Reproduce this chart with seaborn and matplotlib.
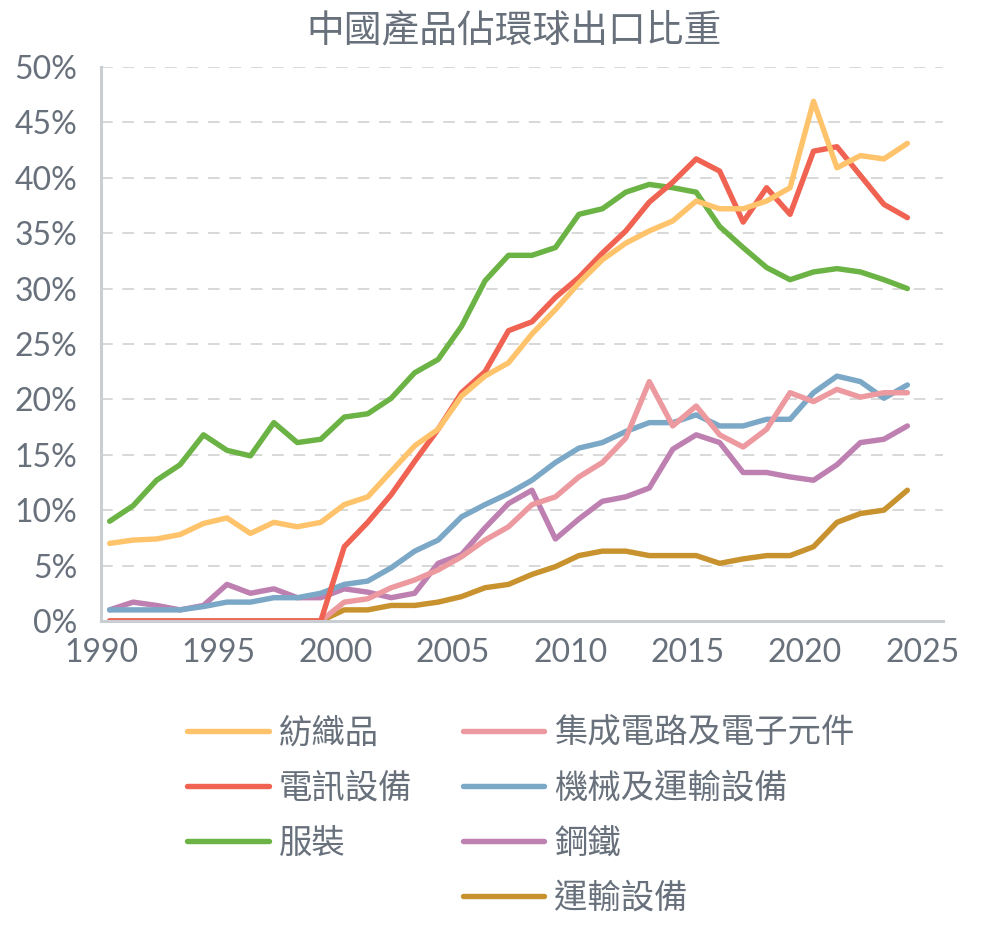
import numpy as np
import pandas as pd
import matplotlib
matplotlib.use("Agg")
import matplotlib.pyplot as plt
from matplotlib.lines import Line2D
import seaborn as sns

years = list(range(1990, 2025))

textiles = [7.0, 7.3, 7.4, 7.8, 8.8, 9.3, 7.9, 8.9, 8.5, 8.9,
            10.5, 11.2, 13.5, 15.8, 17.3, 20.3, 22.1, 23.3, 25.9, 28.1,
            30.5, 32.6, 34.1, 35.2, 36.1, 37.9, 37.2, 37.2, 37.9, 39.1,
            46.9, 40.9, 42.0, 41.7, 43.1]
telecom = [0, 0, 0, 0, 0, 0, 0, 0, 0, 0,
           6.7, 8.9, 11.4, 14.4, 17.3, 20.6, 22.5, 26.2, 27.0, 29.2,
           31.0, 33.2, 35.2, 37.8, 39.6, 41.7, 40.6, 36.0, 39.1, 36.7,
           42.4, 42.8, 40.2, 37.6, 36.4]
apparel = [9.0, 10.4, 12.7, 14.1, 16.8, 15.4, 14.9, 17.9, 16.1, 16.4,
           18.4, 18.7, 20.1, 22.4, 23.6, 26.6, 30.7, 33.0, 33.0, 33.7,
           36.7, 37.2, 38.7, 39.4, 39.1, 38.7, 35.6, 33.7, 31.9, 30.8,
           31.5, 31.8, 31.5, 30.8, 30.0]
chips = [0, 0, 0, 0, 0, 0, 0, 0, 0, 0,
         1.7, 2.0, 3.0, 3.7, 4.6, 5.8, 7.3, 8.5, 10.5, 11.2,
         13.0, 14.3, 16.5, 21.6, 17.6, 19.4, 16.8, 15.7, 17.3, 20.6,
         19.8, 20.9, 20.2, 20.6, 20.6]
machinery = [1.0, 1.0, 1.0, 1.0, 1.3, 1.7, 1.7, 2.1, 2.1, 2.5,
             3.3, 3.6, 4.8, 6.3, 7.3, 9.4, 10.5, 11.5, 12.7, 14.3,
             15.6, 16.1, 17.1, 17.9, 17.9, 18.6, 17.6, 17.6, 18.2, 18.2,
             20.6, 22.1, 21.6, 20.1, 21.3]
steel = [1.0, 1.7, 1.4, 1.0, 1.4, 3.3, 2.5, 2.9, 2.1, 2.1,
         2.9, 2.6, 2.1, 2.5, 5.2, 6.0, 8.4, 10.6, 11.8, 7.4,
         9.2, 10.8, 11.2, 12.0, 15.5, 16.8, 16.1, 13.4, 13.4, 13.0,
         12.7, 14.1, 16.1, 16.4, 17.6]
transport = [0, 0, 0, 0, 0, 0, 0, 0, 0, 0,
             1.0, 1.0, 1.4, 1.4, 1.7, 2.2, 3.0, 3.3, 4.2, 4.9,
             5.9, 6.3, 6.3, 5.9, 5.9, 5.9, 5.2, 5.6, 5.9, 5.9,
             6.7, 8.9, 9.7, 10.0, 11.8]

names = ["紡織品", "電訊設備", "服裝", "集成電路及電子元件", "機械及運輸設備", "鋼鐵", "運輸設備"]
series = [textiles, telecom, apparel, chips, machinery, steel, transport]
colors = ["#FFC36B", "#F06352", "#6BB344", "#EC9A9F", "#7BA8C6", "#BE80B1", "#C8922F"]

df = pd.concat([pd.DataFrame({"year": years, "value": vals, "category": name})
                for name, vals in zip(names, series)], ignore_index=True)
df["x"] = df["year"] + 0.37  # points sit a bit right of the year ticks

sns.set_style("white")
plt.rcParams["font.family"] = ["Noto Sans CJK TC", "DejaVu Sans"]
text_color = "#68717b"
axis_color = "#c9ced2"

fig = plt.figure(figsize=(9.84, 9.30), dpi=100)
ax = fig.add_axes([0.1026, 0.3323, 0.856, 0.5957])

# draw in reverse so the first categories end up on top
for name, color in reversed(list(zip(names, colors))):
    sns.lineplot(data=df[df["category"] == name], x="x", y="value", color=color,
                 linewidth=3.9, ax=ax, label=name, solid_capstyle="round")

ax.set_xlim(1990, 2025.9)
ax.set_ylim(0, 50)
ax.set_xticks(range(1990, 2026, 5))
ax.set_yticks(range(0, 51, 5))
ax.set_yticklabels([f"{v}%" for v in range(0, 51, 5)])
ax.set_xlabel("")
ax.set_ylabel("")

for v in range(5, 51, 5):
    ax.axhline(v, color="#d8d8d8", linewidth=1.4, linestyle=(0, (6, 5)), zorder=0)

for side in ["top", "right"]:
    ax.spines[side].set_visible(False)
for side in ["left", "bottom"]:
    ax.spines[side].set_color(axis_color)
    ax.spines[side].set_linewidth(2.2)
ax.tick_params(axis="both", colors=axis_color, length=7, width=2, labelcolor=text_color,
               labelsize=23)
ax.tick_params(axis="y", pad=10)
ax.tick_params(axis="x", pad=5)
for lab in ax.get_xticklabels() + ax.get_yticklabels():
    lab.set_family(["Lato", "DejaVu Sans"])

ax.set_title("中國產品佔環球出口比重", fontsize=27.2, color=text_color, pad=18.5,
             fontweight="medium", x=0.49)

handles, labels = ax.get_legend_handles_labels()
order = {lab: h for h, lab in zip(handles, labels)}
blank = Line2D([], [], linestyle="none")
leg_handles = [order[n] for n in names[:3]] + [blank] + [order[n] for n in names[3:]]
leg_labels = names[:3] + [""] + names[3:]
ax.legend(leg_handles, leg_labels, ncol=2, frameon=False, loc="upper left",
          bbox_to_anchor=(0.173, 0.248), bbox_transform=fig.transFigure,
          fontsize=24, labelcolor=text_color, handlelength=2.45, handletextpad=0.3,
          columnspacing=1.52, labelspacing=0.6, borderpad=0)

fig.savefig("out.png", dpi=100)
